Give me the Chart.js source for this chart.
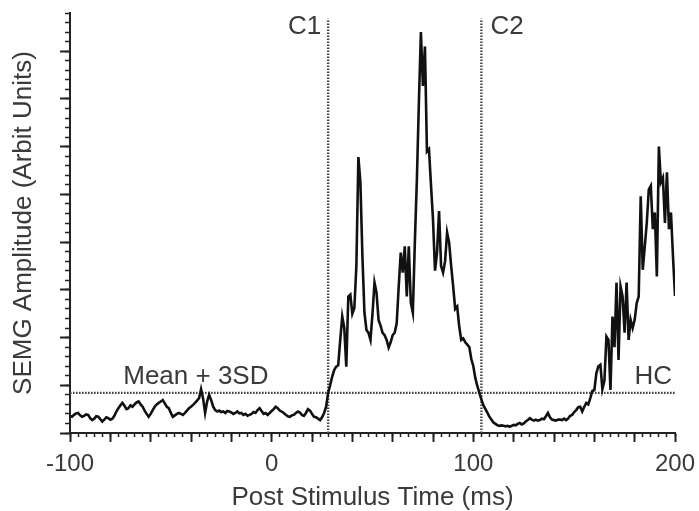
<!DOCTYPE html>
<html>
<head>
<meta charset="utf-8">
<script src="https://cdn.jsdelivr.net/npm/chart.js@4.4.1/dist/chart.umd.min.js"></script>
<style>
  html, body { margin: 0; padding: 0; background: #fff; }
  canvas { display: block; }
</style>
</head>
<body>
<canvas id="semgChart" width="699" height="511"></canvas>
<script>
// sampling of the trace (ms)
const timeStart = -100;
const sampleStep = 1;

// SEMG amplitude, one value per ms from -100 to 200
const amplitude = [
  0.36, 0.34, 0.38, 0.41, 0.42, 0.37, 0.34, 0.36, 0.39, 0.38, // -100
  0.31, 0.27, 0.30, 0.35, 0.34, 0.29, 0.24, 0.28, 0.33, 0.31, // -90
  0.28, 0.30, 0.36, 0.45, 0.52, 0.58, 0.63, 0.57, 0.50, 0.52, // -80
  0.58, 0.55, 0.60, 0.64, 0.66, 0.60, 0.55, 0.47, 0.40, 0.34, // -70
  0.40, 0.48, 0.55, 0.60, 0.63, 0.66, 0.69, 0.62, 0.55, 0.52, // -60
  0.42, 0.34, 0.37, 0.40, 0.42, 0.40, 0.38, 0.42, 0.47, 0.52, // -50
  0.55, 0.59, 0.63, 0.68, 0.73, 0.92, 0.72, 0.42, 0.66, 0.80, // -40
  0.69, 0.55, 0.48, 0.45, 0.47, 0.44, 0.45, 0.42, 0.46, 0.45, // -30
  0.43, 0.40, 0.42, 0.45, 0.41, 0.42, 0.38, 0.40, 0.36, 0.38, // -20
  0.40, 0.44, 0.42, 0.48, 0.52, 0.46, 0.40, 0.42, 0.38, 0.42, // -10
  0.46, 0.50, 0.55, 0.52, 0.47, 0.45, 0.42, 0.38, 0.35, 0.34, // 0
  0.37, 0.38, 0.42, 0.45, 0.43, 0.38, 0.36, 0.42, 0.50, 0.47, // 10
  0.40, 0.34, 0.33, 0.30, 0.27, 0.33, 0.42, 0.55, 0.84, 1.00, // 20
  1.18, 1.32, 1.39, 1.42, 1.95, 2.44, 2.20, 1.39, 2.86, 2.90, // 30
  2.50, 2.62, 3.50, 5.78, 5.25, 3.70, 2.52, 2.16, 2.10, 1.95, // 40
  2.50, 3.15, 2.94, 2.37, 2.25, 2.10, 2.05, 1.95, 1.79, 1.90, // 50
  2.05, 2.10, 2.30, 3.07, 3.78, 3.36, 3.91, 2.86, 3.91, 2.73, // 60
  2.52, 4.00, 5.30, 6.93, 8.40, 7.27, 8.10, 5.90, 5.95, 5.20, // 70
  4.47, 3.40, 3.78, 4.65, 3.50, 3.36, 3.60, 4.20, 3.99, 3.50, // 80
  3.07, 2.60, 2.65, 2.23, 1.95, 1.98, 1.90, 1.85, 1.80, 1.55, // 90
  1.40, 1.15, 0.98, 0.84, 0.70, 0.58, 0.50, 0.42, 0.34, 0.28, // 100
  0.22, 0.19, 0.16, 0.15, 0.16, 0.15, 0.14, 0.15, 0.13, 0.15, // 110
  0.17, 0.16, 0.19, 0.21, 0.18, 0.20, 0.24, 0.27, 0.31, 0.28, // 120
  0.26, 0.28, 0.26, 0.27, 0.30, 0.29, 0.35, 0.42, 0.33, 0.28, // 130
  0.27, 0.26, 0.28, 0.28, 0.27, 0.30, 0.27, 0.30, 0.36, 0.38, // 140
  0.44, 0.48, 0.54, 0.55, 0.45, 0.55, 0.63, 0.60, 0.73, 0.88, // 150
  0.90, 1.25, 1.40, 1.43, 0.92, 1.10, 2.02, 1.95, 0.90, 2.44, // 160
  1.80, 3.15, 1.53, 3.07, 2.86, 2.10, 3.15, 1.95, 2.37, 2.20, // 170
  2.37, 2.72, 2.86, 4.96, 3.42, 3.90, 4.40, 5.10, 5.18, 4.27, // 180
  4.62, 3.28, 6.00, 5.25, 5.35, 4.40, 5.46, 4.27, 4.62, 3.70, // 190
  2.87                                                        // 200
];

const threshold = 0.84;      // mean + 3SD
const cursorC1 = 28;
const cursorC2 = 104;
const cursorTop = 8.68;
const xTickLabels = [-100, 0, 100, 200];

const times = amplitude.map((_, i) => timeStart + i * sampleStep);

const textColor = '#3a3a3a';
const axisColor = '#222';
const dotColor = '#444';
const family = '"Liberation Sans", Arial, sans-serif';
const tickFont = { family, size: 24 };
const titleFont = { family, size: 26, lineHeight: 1.05 };

// text next to the cursors and threshold line
const markerLabels = [
  { text: 'C1', x: cursorC1, y: 8.5, align: 'right', dx: -7, baseline: 'middle' },
  { text: 'C2', x: cursorC2, y: 8.5, align: 'left', dx: 9, baseline: 'middle' },
  { text: 'Mean + 3SD', x: -73.6, y: threshold, align: 'left', dx: 0, baseline: 'bottom' },
  { text: 'HC', x: 198.5, y: threshold, align: 'right', dx: 0, baseline: 'bottom' }
];

const markerLabelPlugin = {
  id: 'markerLabels',
  afterDatasetsDraw(chart) {
    const { ctx, scales } = chart;
    ctx.save();
    ctx.fillStyle = textColor;
    ctx.font = `26px ${family}`;
    markerLabels.forEach(l => {
      ctx.textAlign = l.align;
      ctx.textBaseline = l.baseline;
      const px = scales.x.getPixelForValue(l.x) + l.dx;
      let py = scales.y.getPixelForValue(l.y);
      if (l.baseline === 'bottom') py -= 3;
      ctx.fillText(l.text, px, py);
    });
    ctx.restore();
  }
};

const dotted = {
  borderColor: dotColor,
  borderWidth: 2.4,
  borderDash: [1.6, 1.4],
  pointRadius: 0,
  fill: false
};

new Chart(document.getElementById('semgChart'), {
  type: 'line',
  data: {
    labels: times,
    datasets: [
      {
        label: 'SEMG',
        data: amplitude,
        borderColor: '#111',
        borderWidth: 2.6,
        pointRadius: 0,
        tension: 0,
        fill: false
      },
      { ...dotted, label: 'Mean + 3SD', data: [{ x: -100, y: threshold }, { x: 200, y: threshold }] },
      { ...dotted, label: 'C1', data: [{ x: cursorC1, y: 0 }, { x: cursorC1, y: cursorTop }] },
      { ...dotted, label: 'C2', data: [{ x: cursorC2, y: 0 }, { x: cursorC2, y: cursorTop }] }
    ]
  },
  options: {
    responsive: false,
    animation: false,
    devicePixelRatio: 1,
    layout: { padding: { top: 13, right: 24, left: 0, bottom: 0 } },
    plugins: {
      legend: { display: false },
      tooltip: { enabled: false }
    },
    scales: {
      x: {
        type: 'linear',
        min: -100,
        max: 200,
        afterFit: s => { s.height = 78; s.paddingLeft = 0; s.paddingRight = 0; },
        border: { display: true, color: axisColor, width: 2 },
        grid: { drawOnChartArea: false, tickLength: 9, tickWidth: 2, tickColor: axisColor },
        ticks: {
          stepSize: 20,
          autoSkip: false,
          maxRotation: 0,
          padding: 8,
          color: textColor,
          font: tickFont,
          callback: v => xTickLabels.includes(v) ? String(v) : ''
        },
        title: {
          display: true,
          text: 'Post Stimulus Time (ms)',
          color: textColor,
          font: titleFont,
          padding: { top: 0, bottom: 0 }
        }
      },
      xMinor: {
        type: 'linear',
        axis: 'x',
        position: { y: 0 },
        min: -100,
        max: 200,
        afterFit: s => { s.height = 0; },
        border: { display: false },
        grid: { drawOnChartArea: false, tickLength: 4, tickWidth: 1.5, tickColor: axisColor },
        ticks: { display: false, stepSize: 4 }
      },
      y: {
        type: 'linear',
        min: 0,
        max: 8.8,
        afterFit: s => { s.width = 70; },
        border: { display: true, color: axisColor, width: 2 },
        grid: { drawOnChartArea: false, tickLength: 10, tickWidth: 2, tickColor: axisColor },
        ticks: { display: false, stepSize: 1, includeBounds: false },
        title: {
          display: true,
          text: 'SEMG Amplitude (Arbit Units)',
          color: textColor,
          font: titleFont,
          padding: { top: 10, bottom: 0 }
        }
      },
      yMinor: {
        type: 'linear',
        axis: 'y',
        position: { x: -100 },
        min: 0,
        max: 8.8,
        afterFit: s => { s.width = 0; },
        border: { display: false },
        grid: { drawOnChartArea: false, tickLength: 5, tickWidth: 1.5, tickColor: axisColor },
        ticks: { display: false, stepSize: 0.2 }
      }
    }
  },
  plugins: [markerLabelPlugin]
});
</script>
</body>
</html>
